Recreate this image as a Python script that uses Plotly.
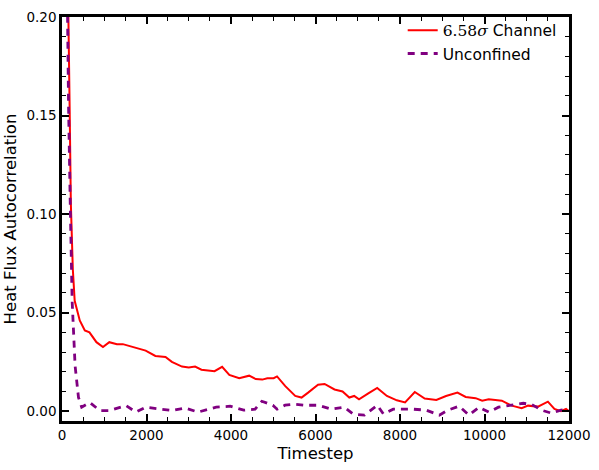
import plotly.graph_objects as go

# Channel (6.58 sigma) heat flux autocorrelation
red_t = [100, 140, 180, 210, 256, 300, 420, 540, 650, 815, 970, 1120, 1300, 1440, 1670, 1980,
         2210, 2450, 2600, 2840, 3000, 3150, 3300, 3420, 3610, 3790, 3960, 4195, 4430, 4585,
         4740, 4860, 5010, 5090, 5285, 5520, 5670, 5825, 6060, 6215, 6450, 6640, 6800, 6915,
         7030, 7250, 7460, 7690, 7925, 8120, 8350, 8585, 8860, 9090, 9360, 9555, 9790, 9945,
         10100, 10410, 10645, 10880, 11030, 11265, 11500, 11655, 11810, 11930, 12000]
red_v = [0.28, 0.20, 0.155, 0.105, 0.072, 0.056, 0.046, 0.041, 0.040, 0.035, 0.0325, 0.035,
         0.034, 0.034, 0.0325, 0.0307, 0.028, 0.0275, 0.025, 0.0226, 0.0222, 0.0226, 0.021,
         0.0208, 0.0203, 0.0225, 0.0184, 0.0167, 0.018, 0.0163, 0.016, 0.0167, 0.0167, 0.0176,
         0.0127, 0.0077, 0.0069, 0.0094, 0.0134, 0.0138, 0.011, 0.010, 0.0069, 0.0077, 0.006,
         0.009, 0.0118, 0.0077, 0.0055, 0.0044, 0.0097, 0.0064, 0.0057, 0.0077, 0.0094, 0.0072,
         0.0066, 0.0053, 0.006, 0.0053, 0.0028, 0.0015, 0.0028, 0.0023, 0.0048, 0.0011, 0.0,
         0.0011, 0.0]

# Unconfined heat flux autocorrelation
pur_t = [100, 130, 155, 195, 240, 310, 390, 466, 660, 895, 1125, 1515, 1750, 1980, 2370, 2600,
         2910, 3220, 3650, 3980, 4300, 4570, 4730, 4990, 5090, 5280, 5520, 5750, 6060, 6370,
         6680, 6890, 7160, 7460, 7610, 7840, 8310, 8620, 8930, 9130, 9400, 9630, 9870, 10100,
         10330, 10650, 10920, 11110, 11350, 11580, 11810, 11970]
pur_v = [0.26, 0.20, 0.155, 0.105, 0.056, 0.023, 0.007, 0.002, 0.0044, 0.0003, 0.0003, 0.0028,
         -0.0005, 0.002, 0.0011, 0.0003, 0.0016, -0.0005, 0.002, 0.0025, 0.0005, 0.001, 0.005,
         0.003, 0.001, 0.003, 0.0035, 0.003, 0.003, 0.001, 0.002, -0.0015, -0.002, 0.003,
         -0.0015, 0.001, 0.001, 0.0005, -0.002, 0.0005, 0.0025, -0.002, 0.002, -0.0005, 0.002,
         0.003, 0.004, 0.0035, 0.0005, -0.001, 0.0005, 0.001]

assert len(red_t) == len(red_v) and len(pur_t) == len(pur_v)

x_ticks = [0, 2000, 4000, 6000, 8000, 10000, 12000]
y_ticks = [0.00, 0.05, 0.10, 0.15, 0.20]

fig = go.Figure()
fig.add_trace(go.Scatter(
    x=red_t, y=red_v, mode="lines",
    name="<span style='font-family:DejaVu Serif'>6.58<i>σ</i></span> Channel",
    line=dict(color="#ff0000", width=2),
))
fig.add_trace(go.Scatter(
    x=pur_t, y=pur_v, mode="lines", name="Unconfined",
    line=dict(color="#800080", width=2.8, dash="7px,6px"),
))

axis_common = dict(
    showline=True, linecolor="black", linewidth=2.5, mirror="ticks",
    ticks="inside", ticklen=7, tickwidth=1.5, tickcolor="black",
    showgrid=False, zeroline=False,
    tickfont=dict(size=13.5, color="black"),
)

fig.update_xaxes(
    range=[0, 12000], tickvals=x_ticks, ticktext=[str(v) for v in x_ticks],
    title=dict(text="Timestep", font=dict(size=16.5, color="black"), standoff=6),
    minor=dict(dtick=500, ticks="inside", ticklen=4, tickcolor="black", tickwidth=1),
    **axis_common,
)
fig.update_yaxes(
    range=[-0.005, 0.2], tickvals=y_ticks, ticktext=[f"{v:.2f}" for v in y_ticks],
    title=dict(text="Heat Flux Autocorrelation", font=dict(size=16.5, color="black"), standoff=6),
    minor=dict(dtick=0.01, ticks="inside", ticklen=4, tickcolor="black", tickwidth=1),
    **axis_common,
)

fig.update_layout(
    width=599, height=470,
    margin=dict(l=60, r=24, t=9, b=48),
    plot_bgcolor="white", paper_bgcolor="white",
    font=dict(family="DejaVu Sans", color="black"),
    legend=dict(
        x=0.672, y=1.008, xanchor="left", yanchor="top",
        font=dict(size=15.5, color="black"),
        bgcolor="rgba(255,255,255,0)", borderwidth=0,
        tracegroupgap=4,
    ),
)

fig.write_html("out.html")
